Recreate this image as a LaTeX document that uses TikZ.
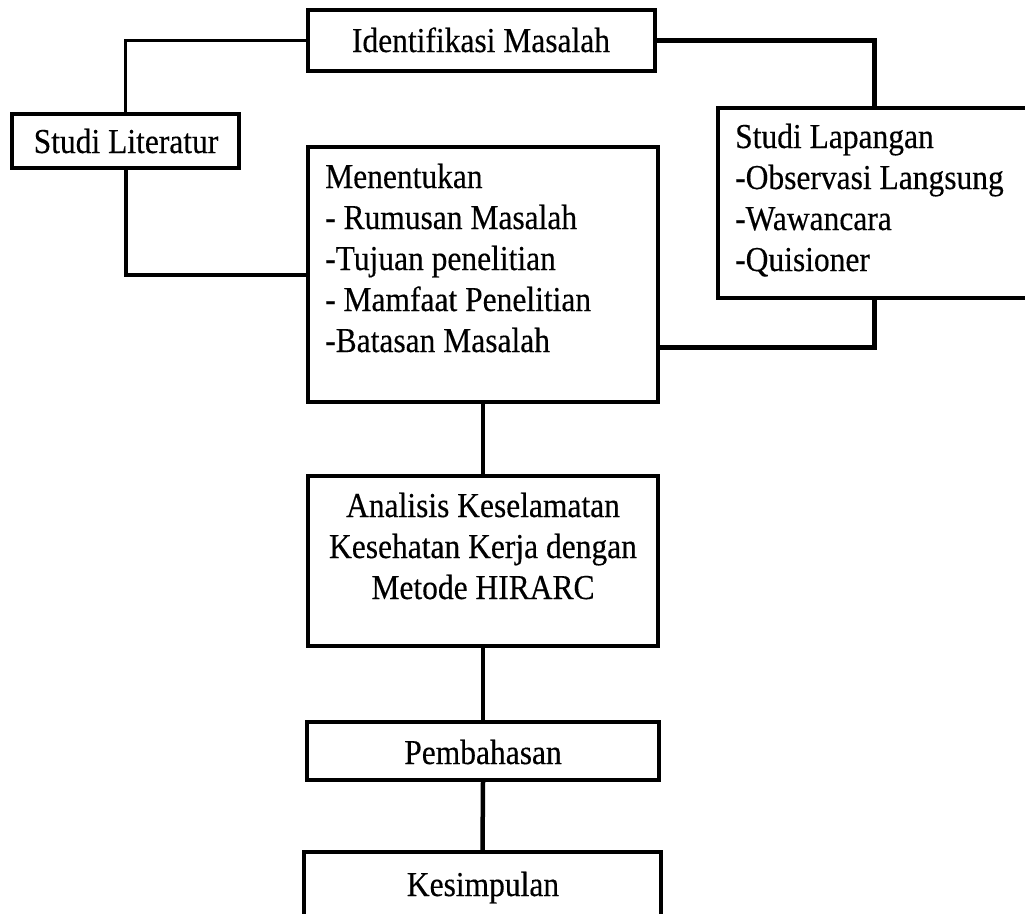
\documentclass[tikz,border=0pt]{standalone}
\usepackage{fontspec}
\setmainfont[FakeStretch=0.9,FakeBold=0.3]{Liberation Serif}
\newcommand{\lines}[2]{\begin{tabular}[t]{@{}#1@{}}#2\end{tabular}}
\begin{document}
\begin{tikzpicture}[x=1pt,y=-1pt,
  box/.style={draw=black,line width=4pt,fill=white,rectangle,inner sep=0pt},
  conn/.style={line width=4pt,line cap=rect},
  txt/.style={inner sep=0pt,font=\fontsize{35}{41}\selectfont}]
\useasboundingbox[fill=white] (0,0) rectangle (1025,913);
% boxes
\node[box,minimum width=347pt,minimum height=61pt] (ident) at (481.5,40.5) {};
\node[box,minimum width=227pt,minimum height=54pt] (lit) at (125.5,141) {};
\node[box,minimum width=350pt,minimum height=255pt] (ment) at (483,274.5) {};
\node[box,minimum width=312pt,minimum height=190pt] (lap) at (874,203) {};
\node[box,minimum width=350pt,minimum height=170pt] (anal) at (483,561) {};
\node[box,minimum width=352pt,minimum height=58pt] (pemb) at (483,751) {};
\node[box,minimum width=357pt,minimum height=80pt] (kes) at (482.5,892) {};
% connectors
\draw[conn,line width=3.5pt] (lit.north) |- (ident.west);
\draw[conn,line width=5pt] (ident.east) -| (lap.north);
\draw[conn] (lit.south) |- (ment.west);
\draw[conn,line width=5pt] ([yshift=-72.5pt]ment.east) -| (lap.south);
\draw[conn,line width=4.5pt] (ment.south) -- (anal.north);
\draw[conn,line width=4.5pt] (anal.south) -- (pemb.north);
\draw[conn,line width=4.5pt] (pemb.south) -- (kes.north);
% texts
\node[txt,anchor=base] (identT) at (481,52) {Identifikasi Masalah};
\node[txt,anchor=base] (litT) at (126,153) {Studi Literatur};
\node[txt,anchor=base west] (mentT) at (325,188) {\lines{l}{Menentukan\\- Rumusan Masalah\\-Tujuan penelitian\\- Mamfaat Penelitian\\-Batasan Masalah}};
\node[txt,anchor=base west] (lapT) at (735,148) {\lines{l}{Studi Lapangan\\-Observasi Langsung\\-Wawancara\\-Quisioner}};
\node[txt,anchor=base] (analT) at (483,517) {\lines{c}{Analisis Keselamatan\\Kesehatan Kerja dengan\\Metode HIRARC}};
\node[txt,anchor=base] (pembT) at (483,764) {Pembahasan};
\node[txt,anchor=base] (kesT) at (483,896) {Kesimpulan};
\end{tikzpicture}
\end{document}
